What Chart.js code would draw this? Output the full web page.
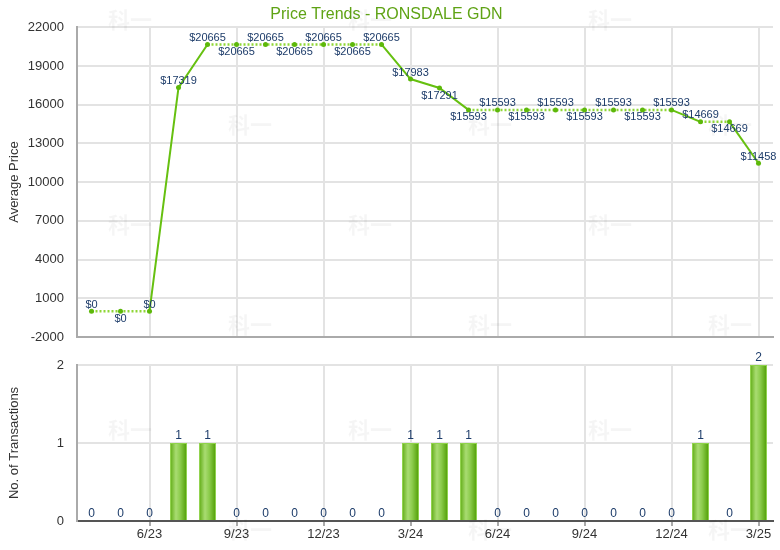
<!DOCTYPE html>
<html>
<head>
<meta charset="utf-8">
<script src="https://cdn.jsdelivr.net/npm/chart.js@4.4.1/dist/chart.umd.min.js"></script>
<style>
  html, body { margin: 0; padding: 0; background: #fff; }
  #wrap { position: relative; width: 780px; height: 550px; }
  #top { position: absolute; left: 0; top: 0; }
  #bottom { position: absolute; left: 0; top: 345px; }
</style>
</head>
<body>
<div id="wrap">
  <canvas id="top" width="780" height="345"></canvas>
  <canvas id="bottom" width="780" height="205"></canvas>
</div>
<script>
// ---- data ----
const months = ['4/23','5/23','6/23','7/23','8/23','9/23','10/23','11/23','12/23','1/24','2/24','3/24',
                '4/24','5/24','6/24','7/24','8/24','9/24','10/24','11/24','12/24','1/25','2/25','3/25'];
const quarterLabels = ['6/23','9/23','12/23','3/24','6/24','9/24','12/24','3/25'];
const priceValues = [0,0,0,17319,20665,20665,20665,20665,20665,20665,20665,17983,
                     17291,15593,15593,15593,15593,15593,15593,15593,15593,14669,14669,11458];
const transactions = [0,0,0,1,1,0,0,0,0,0,0,1,1,1,0,0,0,0,0,0,0,1,0,2];
const priceTicks = [-2000,1000,4000,7000,10000,13000,16000,19000,22000];
const countTicks = [0,1,2];
const chartTitle = 'Price Trends - RONSDALE GDN';

// ---- style ----
Chart.defaults.font.family = 'Arial, "Liberation Sans", sans-serif';
Chart.defaults.animation = false;
const labelSide = ['a','b','a','a','a','b','a','b','a','b','a','a','b','b','a','b','a','b','a','b','a','a','b','a'];
const GRID = '#e3e3e3';
const LABEL = '#1d3c6a';
const AXIS_TEXT = '#333333';

function isQuarter(i) { return quarterLabels.includes(months[i]); }

const watermark = {
  id: 'watermark',
  beforeDatasetsDraw(chart, args, opts) {
    const ctx = chart.ctx;
    const pts = [[130,20],[370,20],[610,20],[250,125],[490,125],[730,125],
                 [130,225],[370,225],[610,225],[250,325],[490,325],[730,325],
                 [130,430],[370,430],[610,430],[250,530],[490,530],[730,530]];
    ctx.save();
    ctx.font = 'bold 22px "Noto Sans CJK SC"';
    ctx.fillStyle = 'rgba(0,0,0,0.04)';
    ctx.textAlign = 'center';
    ctx.textBaseline = 'middle';
    pts.forEach(([x, y]) => ctx.fillText('科一', x, y - opts.offsetY));
    ctx.restore();
  }
};

const pointLabels = {
  id: 'pointLabels',
  afterDatasetsDraw(chart) {
    const ctx = chart.ctx;
    const meta = chart.getDatasetMeta(0);
    ctx.save();
    ctx.font = '11px Arial, "Liberation Sans", sans-serif';
    ctx.fillStyle = LABEL;
    ctx.textAlign = 'center';
    meta.data.forEach((pt, i) => {
      const txt = '$' + priceValues[i];
      if (labelSide[i] === 'a') {
        ctx.textBaseline = 'bottom';
        ctx.fillText(txt, pt.x, pt.y - 1);
      } else {
        ctx.textBaseline = 'top';
        ctx.fillText(txt, pt.x, pt.y + 2);
      }
    });
    ctx.restore();
  }
};

const barLabels = {
  id: 'barLabels',
  afterDatasetsDraw(chart) {
    const ctx = chart.ctx;
    const meta = chart.getDatasetMeta(0);
    ctx.save();
    ctx.font = '12px Arial, "Liberation Sans", sans-serif';
    ctx.fillStyle = LABEL;
    ctx.textAlign = 'center';
    ctx.textBaseline = 'bottom';
    meta.data.forEach((bar, i) => {
      ctx.fillText(String(transactions[i]), bar.x, bar.y - 1);
    });
    ctx.restore();
  }
};

// ---- top chart ----
new Chart(document.getElementById('top'), {
  type: 'line',
  data: {
    labels: months,
    datasets: [{
      data: priceValues,
      borderColor: '#66c010',
      borderWidth: 2,
      borderDash: [],
      pointRadius: 2.5,
      pointBackgroundColor: '#5db80a',
      pointBorderWidth: 0,
      tension: 0,
      segment: {
        borderDash: c => transactions[c.p1DataIndex] > 0 ? [] : [2, 2],
        borderColor: c => transactions[c.p1DataIndex] > 0 ? '#66c010' : '#8fd636',
        borderWidth: c => transactions[c.p1DataIndex] > 0 ? 2 : 2.5
      }
    }]
  },
  options: {
    responsive: false,
    devicePixelRatio: 1,
    layout: { padding: { left: 0, right: 7, top: 0, bottom: 0 } },
    plugins: {
      legend: { display: false },
      tooltip: { enabled: false },
      title: {
        display: true,
        text: chartTitle,
        color: '#5fa315',
        font: { size: 16, weight: 'normal' },
        padding: { top: 5, bottom: 3 }
      },
      watermark: { offsetY: 0 }
    },
    scales: {
      x: {
        type: 'category',
        offset: true,
        afterFit: s => { s.height = 8; },
        grid: {
          offset: false,
          drawTicks: false,
          lineWidth: 2,
          color: c => isQuarter(c.index) ? GRID : 'rgba(0,0,0,0)'
        },
        border: { color: '#aaaaaa', width: 2 },
        ticks: { display: false, autoSkip: false }
      },
      y: {
        min: -2000,
        max: 22000,
        afterBuildTicks: s => { s.ticks = priceTicks.map(v => ({ value: v })); },
        afterFit: s => { s.width = 77; s.paddingTop = 0; s.paddingBottom = 0; },
        grid: { drawTicks: false, lineWidth: 2, color: GRID },
        border: { color: '#aaaaaa', width: 2 },
        ticks: { color: AXIS_TEXT, font: { size: 13 }, padding: 13, callback: v => String(v) },
        title: {
          display: true,
          text: 'Average Price',
          color: AXIS_TEXT,
          font: { size: 13 },
          padding: { top: 7, bottom: 0 }
        }
      }
    }
  },
  plugins: [watermark, pointLabels]
});

// ---- bottom chart ----
function barGradient(c) {
  const chart = c.chart;
  const xs = chart.scales.x;
  const fallback = '#86c946';
  if (!xs || c.dataIndex === undefined) return fallback;
  const x = xs.getPixelForValue(c.dataIndex);
  if (!isFinite(x)) return fallback;
  const half = 8.5;
  const g = chart.ctx.createLinearGradient(x - half, 0, x + half, 0);
  g.addColorStop(0, '#5eaa12');
  g.addColorStop(0.35, '#a9dc72');
  g.addColorStop(0.6, '#8ccc4c');
  g.addColorStop(1, '#4e9c02');
  return g;
}

const bottomChart = new Chart(document.getElementById('bottom'), {
  type: 'bar',
  data: {
    labels: months,
    datasets: [{
      data: transactions,
      backgroundColor: barGradient,
      borderColor: '#8fd34a',
      borderWidth: c => (transactions[c.dataIndex] > 0 ? 1 : 0),
      borderSkipped: 'bottom',
      barPercentage: 0.59,
      categoryPercentage: 1
    }]
  },
  options: {
    responsive: false,
    devicePixelRatio: 1,
    layout: { padding: { left: 0, right: 7, top: 20, bottom: 0 } },
    plugins: {
      legend: { display: false },
      tooltip: { enabled: false },
      title: { display: false },
      watermark: { offsetY: 345 }
    },
    scales: {
      x: {
        type: 'category',
        offset: true,
        afterFit: s => { s.height = 29; },
        grid: {
          offset: false,
          drawTicks: true,
          tickLength: 5,
          lineWidth: 2,
          color: c => isQuarter(c.index) ? GRID : 'rgba(0,0,0,0)',
          tickColor: c => isQuarter(c.index) ? '#aaaaaa' : 'rgba(0,0,0,0)'
        },
        border: { color: '#555555', width: 2 },
        ticks: {
          autoSkip: false,
          maxRotation: 0,
          color: AXIS_TEXT,
          font: { size: 13 },
          padding: 1,
          callback: (v, i) => isQuarter(i) ? months[i] : ''
        }
      },
      y: {
        min: 0,
        max: 2,
        afterBuildTicks: s => { s.ticks = countTicks.map(v => ({ value: v })); },
        afterFit: s => { s.width = 77; s.paddingTop = 0; s.paddingBottom = 0; },
        grid: { drawTicks: false, lineWidth: 2, color: GRID },
        border: { color: '#aaaaaa', width: 2 },
        ticks: { color: AXIS_TEXT, font: { size: 13 }, padding: 13, callback: v => String(v) },
        title: {
          display: true,
          text: 'No. of Transactions',
          color: AXIS_TEXT,
          font: { size: 13 },
          padding: { top: 7, bottom: 0 }
        }
      }
    }
  },
  plugins: [watermark, barLabels]
});
bottomChart.update();
</script>
</body>
</html>
